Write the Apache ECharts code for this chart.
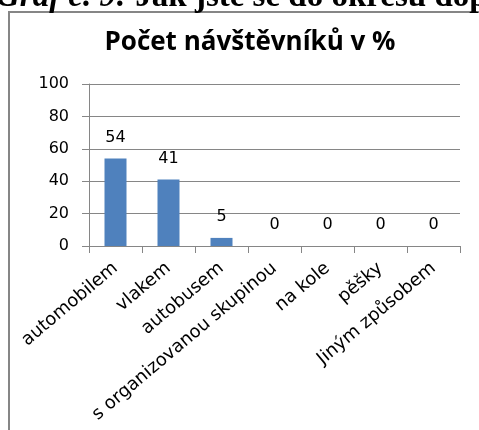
<!DOCTYPE html>
<html>
<head>
<meta charset="utf-8">
<script src="https://cdn.jsdelivr.net/npm/echarts@6/dist/echarts.min.js"></script>
<style>
html,body{margin:0;padding:0;background:#fff;}
#chart{width:479px;height:430px;}
</style>
</head>
<body>
<div id="chart"></div>
<script>
var categories = ['automobilem', 'vlakem', 'autobusem', 's organizovanou skupinou', 'na kole', 'pěšky', 'Jiným způsobem'];
var values = [54, 41, 5, 0, 0, 0, 0];
var yTicks = [0, 20, 40, 60, 80, 100];

var chart = echarts.init(document.getElementById('chart'));
var option = {
    animation: false,
    textStyle: { fontFamily: 'DejaVu Sans' },
    title: {
        text: 'Počet návštěvníků v %',
        left: 245,
        textAlign: 'center',
        top: 25,
        textStyle: { fontFamily: 'Open Sans', fontWeight: 'bold', fontSize: 26, color: '#000' }
    },
    graphic: [
        {
            type: 'rect',
            shape: { x: 9, y: 12, width: 700, height: 700 },
            style: { fill: 'none', stroke: '#868686', lineWidth: 2 },
            silent: true
        },
        {
            type: 'text',
            x: -4,
            y: -3,
            style: {
                text: '{i|Graf č. 9:} Jak jste se do okresu dopravili?',
                font: 'bold 33px "Liberation Serif"',
                fill: '#000',
                verticalAlign: 'middle',
                rich: {
                    i: { fontStyle: 'italic', fontWeight: 'bold', fontSize: 33, fontFamily: 'Liberation Serif' }
                }
            }
        }
    ],
    grid: { left: 89, right: 19, top: 84, bottom: 184 },
    xAxis: {
        type: 'category',
        data: categories,
        axisLine: { lineStyle: { color: '#868686', width: 1 } },
        axisTick: { show: true, length: 7, lineStyle: { color: '#868686' } },
        axisLabel: { rotate: 40, interval: 0, fontSize: 18, color: '#000', margin: 20 }
    },
    yAxis: {
        type: 'value',
        min: yTicks[0],
        max: yTicks[yTicks.length - 1],
        interval: 20,
        axisLine: { show: true, lineStyle: { color: '#868686' } },
        axisTick: { show: true, length: 7, lineStyle: { color: '#868686' } },
        splitLine: { lineStyle: { color: '#868686' } },
        axisLabel: { fontSize: 16, color: '#000', margin: 20 }
    },
    series: [{
        type: 'bar',
        data: values,
        barWidth: 22,
        itemStyle: { color: '#4F81BD' },
        label: { show: true, position: 'top', fontSize: 16, color: '#000', distance: 13 }
    }]
};
chart.setOption(option);
</script>
</body>
</html>
